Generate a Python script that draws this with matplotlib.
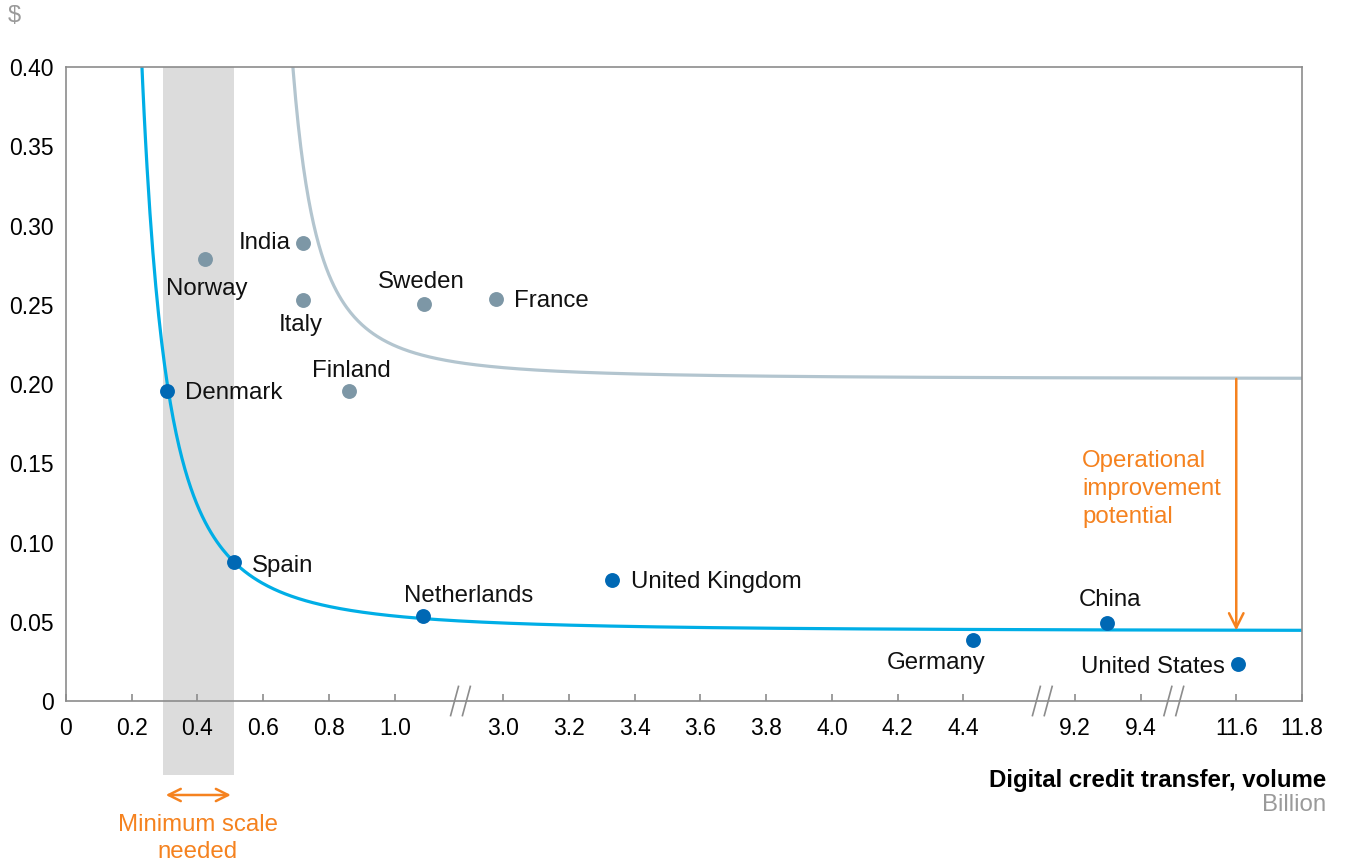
import matplotlib
matplotlib.use("Agg")
import matplotlib.pyplot as plt
import numpy as np
from matplotlib.patches import Rectangle

plt.rcParams["font.family"] = ["Liberation Sans", "DejaVu Sans"]

# 各国の数値 (x: 取引量 [十億件], y: 1件あたりコスト [$])
countries_high = ["Norway", "India", "Italy", "Sweden", "France", "Finland"]
x_high = [0.423, 0.72, 0.72, 1.088, 2.977, 0.86]
y_high = [0.279, 0.289, 0.253, 0.2505, 0.2536, 0.1956]

countries_low = ["Denmark", "Spain", "Netherlands", "United Kingdom",
                 "Germany", "China", "United States"]
x_low = [0.307, 0.511, 1.085, 3.332, 4.43, 9.298, 11.606]
y_low = [0.1956, 0.0877, 0.0536, 0.0763, 0.0385, 0.0492, 0.0233]

xticks = [0, 0.2, 0.4, 0.6, 0.8, 1.0, 3.0, 3.2, 3.4, 3.6, 3.8, 4.0, 4.2, 4.4,
          9.2, 9.4, 11.6, 11.8]
xtick_labels = ["0", "0.2", "0.4", "0.6", "0.8", "1.0", "3.0", "3.2", "3.4",
                "3.6", "3.8", "4.0", "4.2", "4.4", "9.2", "9.4", "11.6", "11.8"]
yticks = [0, 0.05, 0.10, 0.15, 0.20, 0.25, 0.30, 0.35, 0.40]
ytick_labels = ["0", "0.05", "0.10", "0.15", "0.20", "0.25", "0.30", "0.35", "0.40"]

# 最小規模の範囲
min_scale = (0.295, 0.51)

# 近似曲線 y = floor + k / (u - u0)^2 (u は軸上の位置)
blue_fit = (0.044, 0.203, 0.40)
grey_fit = (0.2032, 0.111, 2.70)

# 省略軸: 区間の境界
seg_x = [0, 1.2, 2.87, 4.64, 9.1, 9.5, 11.41, 11.8]
seg_u = [0, 6, 6, 14.85, 14.85, 16.85, 16.85, 18.8]
breaks_u = [6.0, 14.85, 16.85]


def fwd(x):
    return np.interp(x, seg_x, seg_u)


def inv(u):
    return np.interp(u, seg_u, seg_x)


ORANGE = "#f5821f"
DARK_BLUE = "#0068b4"
LIGHT_BLUE = "#00aee6"
GREY_DOT = "#7d97a6"
GREY_LINE = "#b3c5cf"
AXIS = "#8c8c8c"

fig = plt.figure(figsize=(13.46, 8.63), dpi=100)
ax = fig.add_axes([66 / 1346, 1 - 701 / 863, 1236 / 1346, 634 / 863])
ax.set_xscale("function", functions=(fwd, inv))
ax.set_xlim(0, 11.8)
ax.set_ylim(0, 0.40)

# 網掛け (最小規模)
ax.add_patch(Rectangle((min_scale[0], -0.0467), min_scale[1] - min_scale[0],
                       0.4467, facecolor="#dcdcdc", edgecolor="none",
                       zorder=0, clip_on=False))


def curve(fit, u_start):
    floor, k, u0 = fit
    u = np.linspace(u_start, 18.8, 800)
    return inv(u), floor + k / (u - u0) ** 2


cx, cy = curve(grey_fit, 3.3)
ax.plot(cx, cy, color=GREY_LINE, lw=2.3, zorder=2)
cx, cy = curve(blue_fit, 1.1)
ax.plot(cx, cy, color=LIGHT_BLUE, lw=2.3, zorder=2)

ax.scatter(x_high, y_high, s=115, color=GREY_DOT, zorder=3, linewidths=0)
ax.scatter(x_low, y_low, s=115, color=DARK_BLUE, zorder=3, linewidths=0)

# ラベル位置 (offset points, ha, va)
label_pos = {
    "Norway": ((1.5, -21.5), "center", "center"),
    "India": ((-8.6, 0), "right", "center"),
    "Italy": ((-1.5, -18), "center", "center"),
    "Sweden": ((-2, 15.8), "center", "center"),
    "France": ((13, -1.4), "left", "center"),
    "Finland": ((2, 14.4), "center", "center"),
    "Denmark": ((13, -1.4), "left", "center"),
    "Spain": ((13, -2.9), "left", "center"),
    "Netherlands": ((33, 14.4), "center", "center"),
    "United Kingdom": ((13.7, -1.4), "left", "center"),
    "Germany": ((-26.6, -16.6), "center", "center"),
    "China": ((2, 16.6), "center", "center"),
    "United States": ((-9.4, -2), "right", "center"),
}
for names, xs, ys in [(countries_high, x_high, y_high),
                      (countries_low, x_low, y_low)]:
    for n, x, y in zip(names, xs, ys):
        off, ha, va = label_pos[n]
        ax.annotate(n, (x, y), xytext=off, textcoords="offset points",
                    ha=ha, va=va, fontsize=17.3, color="#111111", zorder=4)

# 軸
for s in ax.spines.values():
    s.set_color(AXIS)
    s.set_linewidth(1.2)
ax.set_xticks(xticks)
ax.set_xticklabels(xtick_labels)
ax.set_yticks(yticks)
ax.set_yticklabels(ytick_labels)
ax.xaxis.set_minor_locator(matplotlib.ticker.NullLocator())
ax.tick_params(axis="x", direction="in", length=5, width=1.2, color=AXIS,
               labelsize=16.5, pad=11.5)
ax.tick_params(axis="y", length=0, labelsize=16.5, pad=9)

# 省略記号 //
for ub in breaks_u:
    for du in (-0.09, 0.09):
        uu = np.array([ub + du - 0.06, ub + du + 0.06])
        ax.plot(inv(uu), [-0.0092, 0.0092], color=AXIS, lw=1.2,
                clip_on=False, zorder=5)

# 矢印と注記
ax.annotate("", xy=(min_scale[0], -0.0593), xytext=(min_scale[1], -0.0593),
            arrowprops=dict(arrowstyle="<->", color=ORANGE, lw=1.8,
                            mutation_scale=22),
            annotation_clip=False)
ax.text(0.401, -0.0868, "Minimum scale\nneeded", ha="center", va="center",
        fontsize=17.3, color=ORANGE, linespacing=1.3, clip_on=False)

ax.annotate("", xy=(11.6, 0.0445), xytext=(11.6, 0.2032),
            arrowprops=dict(arrowstyle="->", color=ORANGE, lw=1.8,
                            mutation_scale=26, shrinkA=0, shrinkB=0))
ax.text(0.822, 0.3344, "Operational\nimprovement\npotential",
        transform=ax.transAxes, ha="left", va="center", fontsize=17.3,
        color=ORANGE, linespacing=1.36)

fig.text(8 / 1346, 1 - 16 / 863, "$", fontsize=17, color="#9a9a9a",
         ha="left", va="center")
fig.text(1326 / 1346, 1 - 780 / 863, "Digital credit transfer, volume",
         fontsize=17.3, fontweight="bold", ha="right", va="center")
fig.text(1326 / 1346, 1 - 805 / 863, "Billion", fontsize=17.3, color="#9a9a9a",
         ha="right", va="center")

fig.savefig("out.png", dpi=100)
